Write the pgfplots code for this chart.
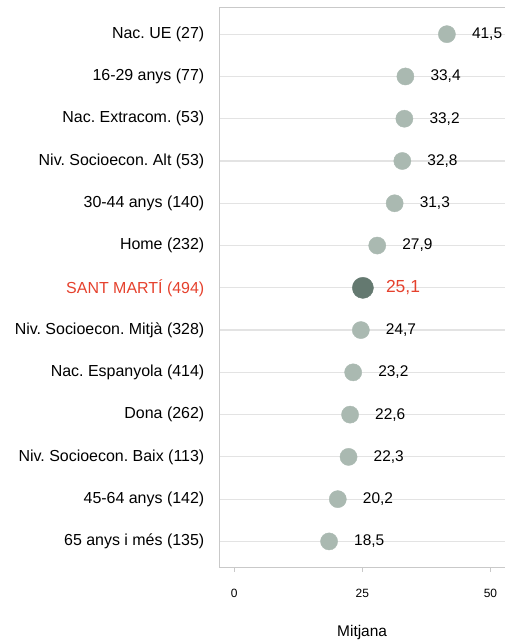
\documentclass[border=0pt]{standalone}
\usepackage{pgfplots}
\pgfplotsset{compat=1.18}
\usepackage{fontspec}
\setmainfont{Liberation Sans}
\frenchspacing
\definecolor{dotLight}{HTML}{AAB9B1}
\definecolor{dotDark}{HTML}{647970}
\definecolor{smRed}{HTML}{E5412D}
\definecolor{gridGrey}{HTML}{E3E3E3}
\definecolor{axGrey}{HTML}{C9C9C9}
\begin{document}
\begin{tikzpicture}
\begin{axis}[
    name=ax,
    scale only axis,
    width=286pt, height=561pt,
    xmin=-2.9, xmax=52.8,
    ymin=-0.62, ymax=12.62,
    y dir=reverse,
    axis x line*=box,
    axis y line*=left,
    xtick pos=bottom,
    axis line style={axGrey, line width=1pt},
    xtick={0,25,50},
    ytick={0,...,12},
    yticklabels={Nac. UE (27), 16-29 anys (77), Nac. Extracom. (53), Niv. Socioecon. Alt (53), 30-44 anys (140), Home (232), {\color{smRed}SANT MARTÍ (494)}, Niv. Socioecon. Mitjà (328), Nac. Espanyola (414), Dona (262), Niv. Socioecon. Baix (113), 45-64 anys (142), 65 anys i més (135)},
    ymajorgrids,
    grid style={gridGrey, line width=1.2pt},
    y tick style={draw=none},
    x tick style={axGrey, line width=0.8pt},
    tick align=outside,
    major tick length=4pt,
    yticklabel style={font=\fontsize{16}{18}\selectfont, inner sep=0pt, xshift=-11pt},
    xticklabel style={font=\fontsize{12}{14}\selectfont, inner sep=0pt, yshift=-17pt},
    /pgf/number format/assume math mode=true,
    xlabel={Mitjana},
    xlabel style={font=\fontsize{15.5}{17}\selectfont, at={(0.5,0)}, anchor=center, yshift=-65pt},
    clip=false,
    nodes near coords,
    point meta=explicit symbolic,
    every node near coord/.append style={anchor=west, inner sep=0pt, font=\fontsize{15.5}{17}\selectfont},
]
\addplot[only marks, mark=*, mark size=8.6pt, color=dotLight,
    every node near coord/.append style={xshift=25pt, text=black}]
    coordinates {
    (41.5,0) [41,5]
    (33.4,1) [33,4]
    (33.2,2) [33,2]
    (32.8,3) [32,8]
    (31.3,4) [31,3]
    (27.9,5) [27,9]
    (24.7,7) [24,7]
    (23.2,8) [23,2]
    (22.6,9) [22,6]
    (22.3,10) [22,3]
    (20.2,11) [20,2]
    (18.5,12) [18,5]
    };
\addplot[only marks, mark=*, mark size=10.6pt, color=dotDark,
    every node near coord/.append style={xshift=23pt, text=smRed, font=\fontsize{17.5}{20}\selectfont}]
    coordinates {
    (25.1,6) [25,1]
    };
\end{axis}
\path ([shift={(-220pt,8pt)}]ax.north west) rectangle ([shift={(0pt,-74pt)}]ax.south east);
\end{tikzpicture}
\end{document}
